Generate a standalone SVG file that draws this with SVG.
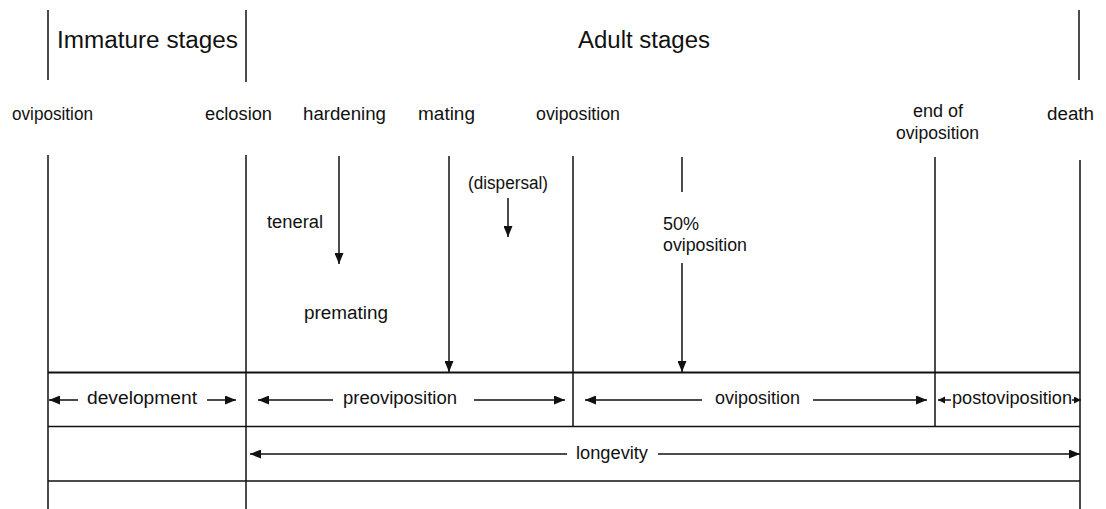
<svg xmlns="http://www.w3.org/2000/svg" width="1106" height="509" viewBox="0 0 1106 509">
<style>
text{font-family:"Liberation Sans",Arial,sans-serif;font-size:18px;fill:#111}
.h{font-size:23px}
.ln{stroke:#111;stroke-width:1.5;fill:none}
.ar{stroke:#111;stroke-width:1.5;fill:none;marker-end:url(#ah)}
.sm{stroke:#111;stroke-width:1.5;fill:none;marker-end:url(#ahs)}
</style>
<defs>
<marker id="ah" markerUnits="userSpaceOnUse" markerWidth="12" markerHeight="9" refX="11" refY="4.5" orient="auto">
<path d="M0,0 L11,4.5 L0,9 z" fill="#111"/>
</marker>
<marker id="ahs" markerUnits="userSpaceOnUse" markerWidth="8" markerHeight="8" refX="7" refY="3.5" orient="auto">
<path d="M0,0 L7,3.5 L0,7 z" fill="#111"/>
</marker>
</defs>
<rect width="1106" height="509" fill="#fff"/>
<g id="connectors">
<line class="ln" x1="48" y1="10" x2="48" y2="80"/>
<line class="ln" x1="246" y1="10" x2="246" y2="82"/>
<line class="ln" x1="1079" y1="10" x2="1079" y2="80"/>
<line class="ln" x1="48" y1="155" x2="48" y2="509"/>
<line class="ln" x1="246" y1="155" x2="246" y2="509"/>
<line class="ln" x1="573" y1="156" x2="573" y2="426"/>
<line class="ln" x1="935" y1="157" x2="935" y2="426"/>
<line class="ln" x1="1080" y1="160" x2="1080" y2="509"/>
<line class="ln" x1="48" y1="372.5" x2="1080" y2="372.5" style="stroke-width:2"/>
<line class="ln" x1="48" y1="426.5" x2="1080" y2="426.5"/>
<line class="ln" x1="48" y1="481" x2="1080" y2="481"/>
<line class="ar" x1="339" y1="156" x2="339" y2="264"/>
<line class="ar" x1="449" y1="156" x2="449" y2="372"/>
<line class="ar" x1="508" y1="198" x2="508" y2="237"/>
<line class="ln" x1="682" y1="157" x2="682" y2="192"/>
<line class="ar" x1="682" y1="263" x2="682" y2="372"/>
<line class="ar" x1="78" y1="400" x2="49" y2="400"/>
<line class="ar" x1="207" y1="400" x2="236" y2="400"/>
<line class="ar" x1="333" y1="400" x2="258" y2="400"/>
<line class="ar" x1="474" y1="400" x2="565" y2="400"/>
<line class="ar" x1="702" y1="400" x2="585" y2="400"/>
<line class="ar" x1="813" y1="400" x2="927" y2="400"/>
<line class="sm" x1="951" y1="400" x2="938" y2="400"/>
<line class="sm" x1="1072" y1="400" x2="1081" y2="400"/>
<line class="ar" x1="567" y1="454" x2="250" y2="454"/>
<line class="ar" x1="658" y1="454" x2="1080" y2="454"/>
</g>
<g id="header-immature"><text class="h" x="57" y="48" textLength="181" lengthAdjust="spacingAndGlyphs">Immature stages</text></g>
<g id="header-adult"><text class="h" x="578" y="48" textLength="132" lengthAdjust="spacingAndGlyphs">Adult stages</text></g>
<g id="ev-oviposition"><text x="12" y="120" textLength="81" lengthAdjust="spacingAndGlyphs">oviposition</text></g>
<g id="ev-eclosion"><text x="205" y="120" textLength="67" lengthAdjust="spacingAndGlyphs">eclosion</text></g>
<g id="ev-hardening"><text x="303" y="120" textLength="83" lengthAdjust="spacingAndGlyphs">hardening</text></g>
<g id="ev-mating"><text x="418" y="120" textLength="57" lengthAdjust="spacingAndGlyphs">mating</text></g>
<g id="ev-oviposition2"><text x="536" y="120" textLength="84" lengthAdjust="spacingAndGlyphs">oviposition</text></g>
<g id="ev-end"><text x="913" y="117" textLength="50" lengthAdjust="spacingAndGlyphs">end of</text><text x="896" y="139" textLength="83" lengthAdjust="spacingAndGlyphs">oviposition</text></g>
<g id="ev-death"><text x="1047" y="120" textLength="47" lengthAdjust="spacingAndGlyphs">death</text></g>
<g id="lbl-teneral"><text x="267" y="228" textLength="56" lengthAdjust="spacingAndGlyphs">teneral</text></g>
<g id="lbl-dispersal"><text x="468" y="189" textLength="80" lengthAdjust="spacingAndGlyphs">(dispersal)</text></g>
<g id="lbl-premating"><text x="304" y="319" textLength="84" lengthAdjust="spacingAndGlyphs">premating</text></g>
<g id="lbl-50"><text x="663" y="230">50%</text><text x="663" y="251" textLength="84" lengthAdjust="spacingAndGlyphs">oviposition</text></g>
<g id="per-development"><text x="87" y="404" textLength="110" lengthAdjust="spacingAndGlyphs">development</text></g>
<g id="per-preoviposition"><text x="343" y="404" textLength="114" lengthAdjust="spacingAndGlyphs">preoviposition</text></g>
<g id="per-oviposition"><text x="715" y="404" textLength="85" lengthAdjust="spacingAndGlyphs">oviposition</text></g>
<g id="per-postoviposition"><text x="952" y="404" textLength="120" lengthAdjust="spacingAndGlyphs">postoviposition</text></g>
<g id="per-longevity"><text x="576" y="459" textLength="72" lengthAdjust="spacingAndGlyphs">longevity</text></g>
</svg>
